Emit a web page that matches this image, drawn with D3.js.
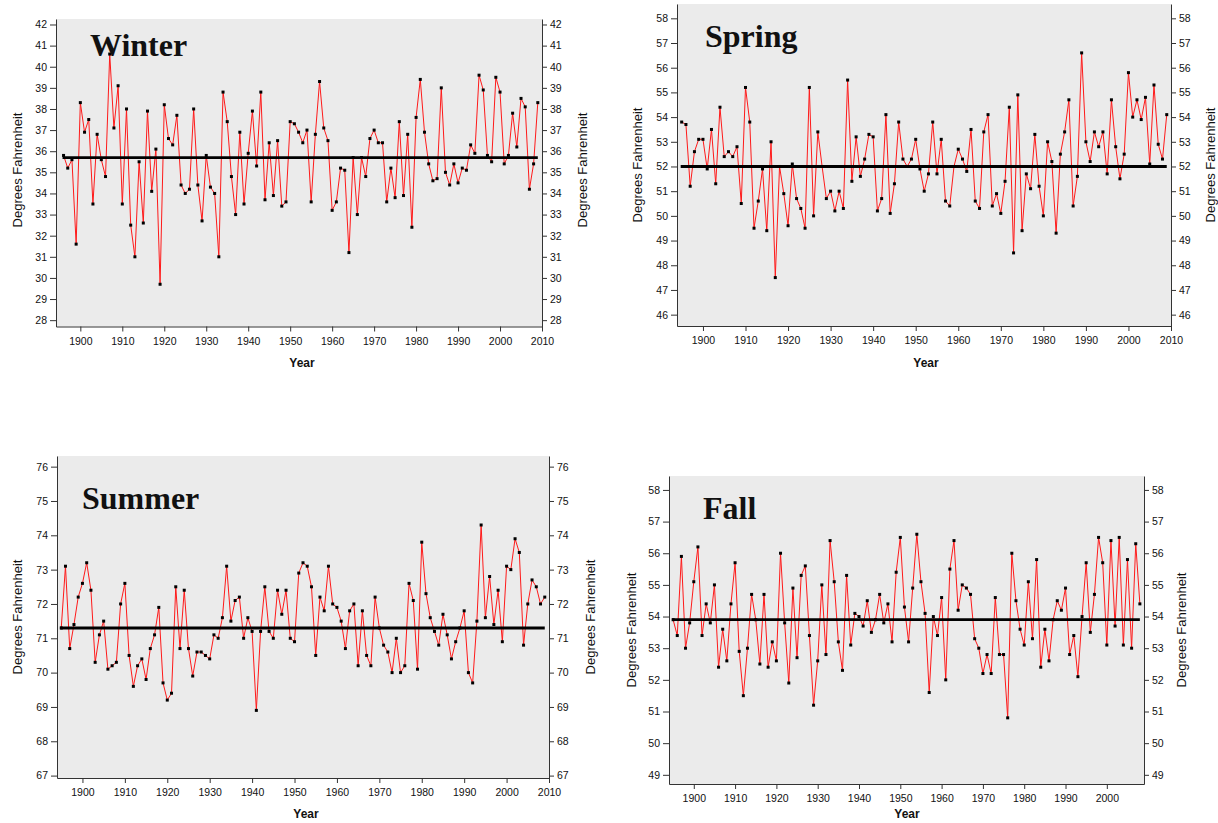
<!DOCTYPE html>
<html>
<head>
<meta charset="utf-8">
<script src="https://cdn.jsdelivr.net/npm/d3@7"></script>
<style>
    body { margin: 0; background: #fff; }
    svg text { font-family: "Liberation Sans", Arial, Helvetica, sans-serif; fill: #111; }
    .title { font-family: "Liberation Serif", "Times New Roman", serif; font-weight: bold; font-size: 32px; }
    .axis text { font-size: 10.5px; }
    .axis path, .axis line { stroke: #333; }
    .ylab { font-size: 13px; }
    .xlab { font-size: 12px; font-weight: bold; }
</style>
</head>
<body>
<svg id="chart" width="1218" height="823"></svg>
<script>
// seasonal mean temperatures (deg F), one value per year
var winterStart = 1896;
var winterTemps = [35.8, 35.2, 35.6, 31.6, 38.3, 36.9, 37.5, 33.5, 36.8, 35.6, 34.8, 40.6, 37.1, 39.1, 33.5, 38.0, 32.5, 31.0, 35.5, 32.6,
    37.9, 34.1, 36.1, 29.7, 38.2, 36.6, 36.3, 37.7, 34.4, 34.0, 34.2, 38.0, 34.4, 32.7, 35.8, 34.3, 34.0, 31.0, 38.8, 37.4,
    34.8, 33.0, 36.9, 33.5, 35.9, 37.9, 35.3, 38.8, 33.7, 36.4, 33.9, 36.5, 33.4, 33.6, 37.4, 37.3, 36.9, 36.4,
    37.0, 33.6, 36.8, 39.3, 37.1, 36.5, 33.2, 33.6, 35.2, 35.1, 31.2, 35.7, 33.0, 35.7, 34.8, 36.6, 37.0, 36.4, 36.4, 33.6,
    35.2, 33.8, 37.4, 33.9, 36.8, 32.4, 37.6, 39.4, 36.9, 35.4, 34.6, 34.7, 39.0, 35.0, 34.4, 35.4, 34.5, 35.2, 35.1, 36.3,
    35.9, 39.6, 38.9, 35.8, 35.5, 39.5, 38.8, 35.4, 35.8, 37.8, 36.2, 38.5, 38.1, 34.2, 35.4, 38.3];
var winterMean = 35.7;

var springStart = 1895;
var springTemps = [53.8, 53.7, 51.2, 52.6, 53.1, 53.1, 51.9, 53.5, 51.3, 54.4, 52.4, 52.6, 52.4, 52.8, 50.5, 55.2, 53.8, 49.5, 50.6, 51.9,
    49.4, 53.0, 47.5, 52.0, 50.9, 49.6, 52.1, 50.7, 50.3, 49.5, 55.2, 50.0, 53.4, 52.0, 50.7, 51.0, 50.2, 51.0, 50.3, 55.5,
    51.4, 53.2, 51.6, 52.3, 53.3, 53.2, 50.2, 50.7, 54.1, 50.1, 51.3, 53.8, 52.3, 52.0, 52.3, 53.1, 51.9,
    51.0, 51.7, 53.8, 51.7, 53.1, 50.6, 50.4, 52.0, 52.7, 52.3, 51.8, 53.5, 50.6, 50.3, 53.4, 54.1, 50.4, 50.9, 50.1, 51.4,
    54.4, 48.5, 54.9, 49.4, 51.7, 51.1, 53.3, 51.2, 50.0, 53.0, 52.2, 49.3, 52.5, 53.4, 54.7, 50.4, 51.6, 56.6, 53.0, 52.2,
    53.4, 52.8, 53.4, 51.7, 54.7, 52.8, 51.5, 52.5, 55.8, 54.0, 54.7, 53.9, 54.8, 52.1, 55.3, 52.9, 52.3, 54.1];
var springMean = 52.0;

var summerStart = 1895;
var summerTemps = [71.3, 73.1, 70.7, 71.4, 72.2, 72.6, 73.2, 72.4, 70.3, 71.1, 71.5, 70.1, 70.2, 70.3, 72.0, 72.6, 70.5, 69.6, 70.2, 70.4,
    69.8, 70.7, 71.1, 71.9, 69.7, 69.2, 69.4, 72.5, 70.7, 72.4, 70.7, 69.9, 70.6, 70.6, 70.5, 70.4, 71.1, 71.0, 71.6, 73.1,
    71.5, 72.1, 72.2, 71.0, 71.6, 71.2, 68.9, 71.2, 72.5, 71.2, 71.0, 72.4, 71.7, 72.4, 71.0, 70.9, 72.9, 73.2,
    73.1, 72.5, 70.5, 72.2, 71.8, 73.1, 72.0, 71.9, 71.5, 70.7, 71.8, 72.0, 70.2, 71.8, 70.5, 70.2, 72.2, 71.3, 70.8, 70.6,
    70.0, 71.0, 70.0, 70.2, 72.6, 72.1, 70.1, 73.8, 72.3, 71.6, 71.2, 70.8, 71.7, 71.1, 70.4, 70.9, 71.3, 71.8, 70.0, 69.7,
    71.5, 74.3, 71.6, 72.8, 71.4, 72.4, 70.9, 73.1, 73.0, 73.9, 73.5, 70.8, 72.0, 72.7, 72.5, 72.0, 72.2];
var summerMean = 71.3;

var fallStart = 1895;
var fallTemps = [53.9, 53.4, 55.9, 53.0, 53.8, 55.1, 56.2, 53.4, 54.4, 53.8, 55.0, 52.4, 53.6, 52.6, 54.4, 55.7, 52.9, 51.5, 53.0, 54.7,
    53.9, 52.5, 54.7, 52.4, 53.2, 52.6, 56.0, 53.8, 51.9, 54.9, 52.7, 55.3, 55.6, 53.4, 51.2, 52.6, 55.0, 52.8, 56.4, 55.1,
    53.2, 52.3, 55.3, 53.1, 54.1, 54.0, 53.7, 54.5, 53.5, 53.9, 54.7, 53.8, 54.4, 53.2, 55.4, 56.5, 54.3, 53.2, 54.9,
    56.6, 55.1, 54.1, 51.6, 54.0, 53.4, 54.6, 52.0, 55.5, 56.4, 54.2, 55.0, 54.9, 54.7, 53.3, 53.0, 52.2, 52.8, 52.2, 54.6,
    52.8, 52.8, 50.8, 56.0, 54.5, 53.6, 53.1, 55.1, 53.3, 55.8, 52.4, 53.6, 52.6, 53.9, 54.5, 54.2, 54.9, 52.8, 53.4, 52.1,
    54.0, 55.7, 53.5, 54.7, 56.5, 55.7, 53.1, 56.4, 53.7, 56.5, 53.1, 55.8, 53.0, 56.3, 54.4];
var fallMean = 53.9;

// tick labels
var yearTicks = [1900, 1910, 1920, 1930, 1940, 1950, 1960, 1970, 1980, 1990, 2000, 2010];
var fallYearTicks = [1900, 1910, 1920, 1930, 1940, 1950, 1960, 1970, 1980, 1990, 2000];
var winterTicks = [28, 29, 30, 31, 32, 33, 34, 35, 36, 37, 38, 39, 40, 41, 42];
var springTicks = [46, 47, 48, 49, 50, 51, 52, 53, 54, 55, 56, 57, 58];
var summerTicks = [67, 68, 69, 70, 71, 72, 73, 74, 75, 76];
var fallTicks = [49, 50, 51, 52, 53, 54, 55, 56, 57, 58];

var yLabel = "Degrees Fahrenheit";
var xLabel = "Year";

// panel layout
var panels = [
    { title: "Winter", start: winterStart, temps: winterTemps, mean: winterMean, xTicks: yearTicks, yTicks: winterTicks,
      left: 56, right: 542, top: 19, bottom: 326.5, xDom: [1894.2, 2010], yDom: [27.7, 42.26],
      titleX: 90, titleY: 56, leftLabX: 17, rightLabX: 582, labY: 170, yearX: 302, yearY: 367 },
    { title: "Spring", start: springStart, temps: springTemps, mean: springMean, xTicks: yearTicks, yTicks: springTicks,
      left: 677, right: 1171, top: 4, bottom: 326, xDom: [1893.9, 2010], yDom: [45.54, 58.58],
      titleX: 705, titleY: 47, leftLabX: 637, rightLabX: 1210, labY: 165, yearX: 926, yearY: 367 },
    { title: "Summer", start: summerStart, temps: summerTemps, mean: summerMean, xTicks: yearTicks, yTicks: summerTicks,
      left: 57, right: 549, top: 456, bottom: 778, xDom: [1894, 2010], yDom: [66.93, 76.31],
      titleX: 82, titleY: 509, leftLabX: 17, rightLabX: 590, labY: 617, yearX: 306, yearY: 818 },
    { title: "Fall", start: fallStart, temps: fallTemps, mean: fallMean, xTicks: fallYearTicks, yTicks: fallTicks,
      left: 669, right: 1144, top: 476, bottom: 784, xDom: [1894, 2009], yDom: [48.71, 58.44],
      titleX: 703, titleY: 519, leftLabX: 631, rightLabX: 1181, labY: 630, yearX: 907, yearY: 818 }
];

var svg = d3.select("#chart");

panels.forEach(function(p) {
    var pts = p.temps.map(function(t, i) { return { year: p.start + i, temp: t }; });

    var x = d3.scaleLinear().domain(p.xDom).range([p.left, p.right]);
    var y = d3.scaleLinear().domain(p.yDom).range([p.bottom, p.top]);

    var g = svg.append("g");

    // grey plotting area
    g.append("rect")
        .attr("x", p.left)
        .attr("y", p.top)
        .attr("width", p.right - p.left)
        .attr("height", p.bottom - p.top)
        .attr("fill", "#ebebeb");

    // red line
    var line = d3.line()
        .x(function(d) { return x(d.year); })
        .y(function(d) { return y(d.temp); });

    g.append("path")
        .datum(pts)
        .attr("d", line)
        .attr("fill", "none")
        .attr("stroke", "#ff1a1a")
        .attr("stroke-width", 1);

    // mean line
    var firstYear = pts[0].year, lastYear = pts[pts.length - 1].year;
    g.append("line")
        .attr("x1", x(firstYear) - 1)
        .attr("x2", x(lastYear))
        .attr("y1", y(p.mean))
        .attr("y2", y(p.mean))
        .attr("stroke", "#000")
        .attr("stroke-width", 2.8);

    // markers
    g.selectAll(".pt")
        .data(pts)
        .enter().append("rect")
        .attr("class", "pt")
        .attr("x", function(d) { return x(d.year) - 1.5; })
        .attr("y", function(d) { return y(d.temp) - 1.5; })
        .attr("width", 3)
        .attr("height", 3)
        .attr("fill", "#000");

    // axes
    g.append("g")
        .attr("class", "axis")
        .attr("transform", "translate(0," + p.bottom + ")")
        .call(d3.axisBottom(x).tickValues(p.xTicks).tickFormat(d3.format("d")).tickSize(5).tickPadding(6).tickSizeOuter(0));

    g.append("g")
        .attr("class", "axis")
        .attr("transform", "translate(" + p.left + ",0)")
        .call(d3.axisLeft(y).tickValues(p.yTicks).tickSize(6).tickPadding(3).tickSizeOuter(0));

    g.append("g")
        .attr("class", "axis")
        .attr("transform", "translate(" + p.right + ",0)")
        .call(d3.axisRight(y).tickValues(p.yTicks).tickSize(5).tickPadding(3).tickSizeOuter(0));

    // labels
    g.append("text")
        .attr("class", "ylab")
        .attr("transform", "translate(" + p.leftLabX + "," + p.labY + ") rotate(-90)")
        .attr("dy", "0.35em")
        .attr("text-anchor", "middle")
        .text(yLabel);

    g.append("text")
        .attr("class", "ylab")
        .attr("transform", "translate(" + p.rightLabX + "," + p.labY + ") rotate(-90)")
        .attr("dy", "0.35em")
        .attr("text-anchor", "middle")
        .text(yLabel);

    g.append("text")
        .attr("class", "xlab")
        .attr("x", p.yearX)
        .attr("y", p.yearY)
        .attr("text-anchor", "middle")
        .text(xLabel);

    g.append("text")
        .attr("class", "title")
        .attr("x", p.titleX)
        .attr("y", p.titleY)
        .text(p.title);
});
</script>
</body>
</html>
